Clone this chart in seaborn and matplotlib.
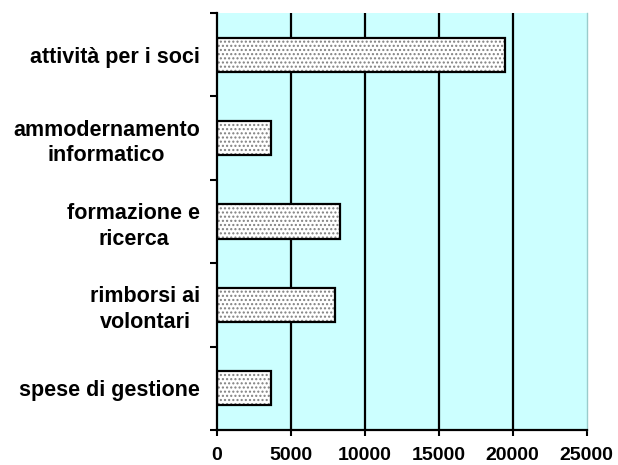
import numpy as np
import pandas as pd
import seaborn as sns
import matplotlib.pyplot as plt

# dati
categorie = ['attività per i soci', 'ammodernamento\ninformatico',
             'formazione e\nricerca', 'rimborsi ai\nvolontari',
             'spese di gestione']
importi = [19500, 3700, 8300, 8000, 3700]
x_ticks = [0, 5000, 10000, 15000, 20000, 25000]

df = pd.DataFrame({'categoria': categorie, 'importo': importi})

sns.set_style('white')
plt.rcParams['font.family'] = ['Liberation Sans', 'DejaVu Sans']
plt.rcParams['font.weight'] = 'bold'
plt.rcParams['text.color'] = 'black'
plt.rcParams['xtick.color'] = 'black'
plt.rcParams['ytick.color'] = 'black'
plt.rcParams['hatch.linewidth'] = 1.0

fig = plt.figure(figsize=(6.18, 4.65), dpi=100)
ax = fig.add_axes([0.3506, 0.0753, 0.5987, 0.8968])
ax.set_facecolor('#CCFFFF')

# riempimento puntinato
sns.barplot(data=df, x='importo', y='categoria', orient='h', color='white',
            edgecolor='#808080', hatch='....', linewidth=0, width=0.41,
            saturation=1, ax=ax, zorder=2)
# contorno nero
sns.barplot(data=df, x='importo', y='categoria', orient='h', color='black',
            fill=False, linewidth=1.6, width=0.41, ax=ax, zorder=3)

ax.set_xlim(0, 25000)
ax.set_ylim(4.5, -0.5)
ax.set_xticks(x_ticks)
ax.set_xticklabels([str(v) for v in x_ticks], fontsize=14, fontweight='bold',
                   color='black')
ax.set_xlabel('')
ax.set_ylabel('')

for lab in ax.get_yticklabels():
    lab.set_fontsize(15.5)
    lab.set_fontweight('bold')
    lab.set_color('black')
    lab.set_multialignment('center')
    lab.set_linespacing(1.3)

ax.set_yticks(np.arange(-0.5, 5, 1), minor=True)
ax.tick_params(axis='y', which='major', length=0, pad=12)
ax.tick_params(axis='y', which='minor', left=True, length=5, width=1.5,
               color='black', direction='out')
ax.tick_params(axis='x', which='major', bottom=True, length=4.5, width=1.5,
               color='black', direction='out', pad=8)

# griglia verticale
ax.set_axisbelow(True)
for v in x_ticks[1:-1]:
    ax.axvline(v, color='black', linewidth=1.6, zorder=1)

for s in ['left', 'bottom']:
    ax.spines[s].set_color('black')
    ax.spines[s].set_linewidth(1.6)
ax.spines['top'].set_visible(False)
ax.spines['right'].set_color('#99CCCC')
ax.spines['right'].set_linewidth(1)

fig.savefig('out.png', dpi=100)
